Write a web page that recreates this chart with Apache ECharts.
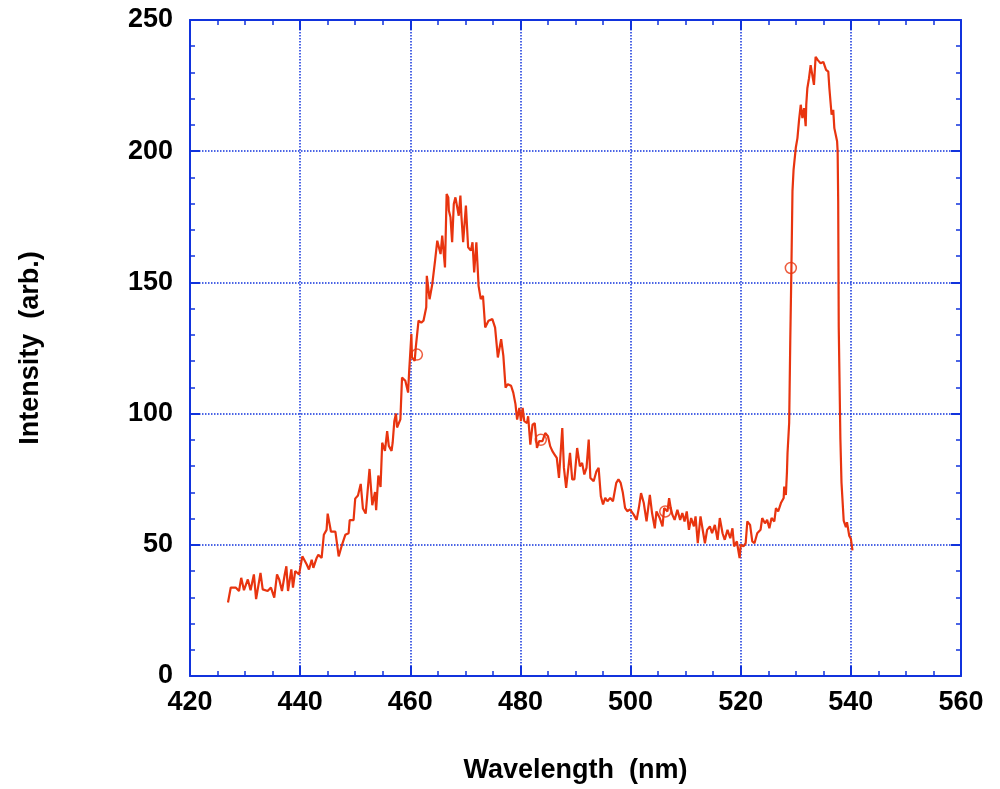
<!DOCTYPE html>
<html>
<head>
<meta charset="utf-8">
<script src="https://cdn.jsdelivr.net/npm/echarts@6/dist/echarts.min.js"></script>
<style>
  html, body { margin: 0; padding: 0; background: #fff; }
  #spectrum { width: 1000px; height: 789px; }
</style>
</head>
<body>
<div id="spectrum"></div>
<script>
// wavelength (nm)
const wavelength = [
  426.9, 427.4, 428.3, 428.9, 429.3, 429.8, 430.5, 431.0, 431.6, 432.0,
  432.8, 433.2, 434.1, 434.7, 435.3, 435.8, 436.2, 436.7, 437.2, 437.5,
  437.8, 438.4, 438.7, 439.1, 439.8, 440.4, 441.2, 441.6, 442.1, 442.4,
  443.0, 443.3, 443.9, 444.3, 444.8, 445.0, 445.6, 446.4, 447.0, 447.6,
  448.2, 448.8, 449.0, 449.7, 450.0, 450.5, 451.0, 451.4, 451.9, 452.6,
  453.1, 453.6, 453.8, 454.2, 454.6, 454.9, 455.4, 455.8, 456.1, 456.6,
  456.8, 457.1, 457.4, 457.6, 458.2, 458.5, 459.1, 459.6, 459.8, 460.2,
  460.3, 460.8, 461.0, 461.5, 462.0, 462.4, 462.9, 463.0, 463.5, 464.0,
  464.5, 464.9, 465.2, 465.5, 465.8, 466.3, 466.6, 466.9, 467.0, 467.3,
  467.6, 467.9, 468.2, 468.5, 468.8, 469.1, 469.3, 469.6, 470.1, 470.5,
  471.0, 471.3, 471.6, 472.0, 472.4, 472.8, 473.2, 473.6, 474.2, 474.9,
  475.4, 475.9, 476.5, 476.9, 477.3, 477.7, 478.3, 478.7, 479.1, 479.4,
  479.8, 480.1, 480.4, 480.7, 481.2, 481.4, 481.8, 482.2, 482.6, 483.0,
  483.4, 484.0, 484.5, 485.0, 485.4, 485.8, 486.2, 486.6, 487.0, 487.6,
  487.9, 488.3, 489.0, 489.4, 489.8, 490.3, 490.8, 491.2, 491.6, 492.0,
  492.4, 492.7, 493.3, 493.8, 494.2, 494.6, 495.0, 495.4, 495.8, 496.3,
  496.8, 497.4, 497.8, 498.2, 498.6, 499.0, 499.4, 499.9, 500.0, 500.6,
  501.1, 501.5, 501.9, 502.4, 502.9, 503.2, 503.5, 503.9, 504.4, 504.7,
  505.3, 505.8, 506.1, 506.7, 507.0, 507.3, 507.6, 508.0, 508.5, 509.0,
  509.4, 509.8, 510.2, 510.6, 511.0, 511.5, 511.8, 512.2, 512.7, 513.2,
  513.5, 513.9, 514.4, 514.8, 515.3, 515.8, 516.2, 516.7, 517.1, 517.6,
  518.1, 518.5, 518.8, 519.3, 519.5, 519.8, 520.0, 520.5, 520.9, 521.2,
  521.7, 522.1, 522.5, 523.0, 523.6, 523.9, 524.4, 524.8, 525.2, 525.6,
  526.1, 526.4, 526.8, 527.3, 527.8, 527.9, 528.2, 528.4, 528.5, 528.8,
  529.0, 529.2, 529.4, 529.6, 530.0, 530.3, 530.6, 530.9, 531.2, 531.5,
  531.8, 531.9, 532.1, 532.4, 532.7, 533.0, 533.3, 533.6, 534.0, 534.5,
  535.0, 535.5, 535.9, 536.1, 536.5, 536.8, 537.0, 537.5, 537.6, 537.7,
  537.8, 538.1, 538.3, 538.7, 539.1, 539.3, 539.7, 540.0, 540.3
];

// intensity (arb.) for each wavelength
const intensity = [
  28.0, 33.7, 33.7, 32.4, 37.4, 32.7, 36.8, 32.7, 38.7, 29.3,
  39.3, 33.0, 32.4, 33.7, 29.9, 38.7, 36.8, 32.4, 38.7, 41.8,
  32.4, 40.6, 33.7, 40.0, 38.7, 45.6, 42.5, 40.6, 44.3, 41.2,
  45.0, 46.2, 45.0, 53.8, 55.7, 61.9, 55.0, 55.0, 45.6, 50.0,
  53.8, 54.4, 59.4, 59.4, 67.6, 68.8, 73.2, 63.8, 61.9, 78.9,
  65.1, 70.1, 63.2, 76.4, 72.0, 88.9, 85.8, 93.3, 87.7, 85.8,
  88.9, 97.1, 100.0, 94.7, 97.8, 113.7, 112.5, 108.0, 116.3, 130.3,
  121.4, 120.1, 125.2, 135.4, 134.7, 135.4, 140.5, 152.5, 143.6, 149.4,
  158.3, 165.9, 166.5, 160.8, 167.8, 155.7, 183.7, 182.4, 177.4, 174.8,
  165.3, 179.9, 182.4, 183.1, 175.4, 183.1, 174.8, 165.3, 179.3, 163.4,
  162.1, 165.3, 153.8, 165.3, 148.7, 143.6, 144.9, 132.8, 135.4, 136.0,
  132.8, 121.4, 128.4, 122.0, 109.9, 111.2, 110.6, 108.0, 103.6, 97.7,
  102.2, 97.1, 102.2, 97.1, 96.4, 99.0, 88.2, 95.8, 96.4, 86.9,
  89.5, 89.5, 92.6, 91.4, 87.6, 85.7, 84.4, 83.1, 75.5, 94.5,
  79.3, 71.7, 85.0, 74.9, 74.9, 86.9, 79.9, 81.2, 76.8, 79.3,
  90.1, 75.5, 74.2, 78.0, 79.3, 68.5, 65.4, 67.9, 66.6, 67.9,
  66.6, 73.6, 74.9, 73.6, 69.8, 64.1, 62.8, 63.5, 64.0, 61.4,
  59.5, 64.0, 69.7, 65.9, 58.9, 64.0, 69.0, 62.1, 56.3, 62.7,
  60.2, 57.0, 64.0, 62.7, 67.8, 64.0, 61.4, 59.5, 63.3, 59.5,
  62.1, 58.9, 62.7, 55.7, 60.2, 57.0, 60.8, 50.6, 60.8, 54.4,
  50.6, 55.7, 57.0, 54.4, 57.6, 51.9, 60.2, 54.4, 51.9, 55.7,
  52.5, 56.3, 49.4, 51.3, 48.7, 44.9, 50.0, 49.4, 50.6, 58.9,
  57.6, 51.3, 50.6, 54.4, 55.7, 60.2, 58.2, 59.5, 56.3, 60.2,
  58.9, 64.0, 62.7, 65.9, 67.8, 72.2, 69.0, 77.9, 85.0, 96.5,
  128.0, 154.5, 184.8, 193.0, 201.3, 205.0, 212.0, 217.7, 212.6, 216.4,
  209.5, 217.7, 224.0, 227.8, 232.8, 232.2, 225.3, 236.0, 234.7, 233.5,
  234.0, 231.0, 230.3, 224.0, 213.9, 215.8, 208.8, 203.8, 200.0, 181.0,
  133.0, 90.2, 73.7, 59.2, 56.7, 58.6, 53.5, 52.3, 47.9
];

// open circle markers on the curve
const markerX = [461.2, 483.7, 506.3, 529.1];
const markerY = [122.5, 90.0, 62.7, 155.5];

const xTicks = { min: 420, max: 560, interval: 20 };
const yTicks = { min: 0, max: 250, interval: 50 };

const blue = '#1133dd';
const red = '#e8340f';
const font = 'Liberation Sans, Arial, sans-serif';

const linePoints = wavelength.map((w, i) => [w, intensity[i]]);
const markerPoints = markerX.map((w, i) => [w, markerY[i]]);

const labelStyle = {
  color: '#000',
  fontFamily: font,
  fontWeight: 'bold',
  fontSize: 27
};

const baseAxis = {
  type: 'value',
  axisLine: { show: true, onZero: false, lineStyle: { color: blue, width: 2 } },
  axisTick: { show: true, inside: true, length: 10, lineStyle: { color: blue, width: 2 } },
  minorTick: { show: true, length: 5, lineStyle: { color: blue, width: 1.5 } },
  minorSplitLine: { show: false }
};

const chart = echarts.init(document.getElementById('spectrum'));
chart.setOption({
  animation: false,
  backgroundColor: '#fff',
  grid: { left: 190, right: 39, top: 20, bottom: 112, containLabel: false },
  xAxis: [
    {
      ...baseAxis,
      position: 'bottom',
      min: xTicks.min, max: xTicks.max, interval: xTicks.interval,
      minorTick: { ...baseAxis.minorTick, splitNumber: 4 },
      splitLine: { show: true, lineStyle: { color: blue, type: 'dotted', width: 1.5 } },
      axisLabel: { ...labelStyle, margin: 13 },
      name: 'Wavelength  (nm)',
      nameLocation: 'middle',
      nameGap: 81,
      nameTextStyle: labelStyle
    },
    {
      ...baseAxis,
      position: 'top',
      min: xTicks.min, max: xTicks.max, interval: xTicks.interval,
      minorTick: { ...baseAxis.minorTick, splitNumber: 4 },
      splitLine: { show: false },
      axisLabel: { show: false }
    }
  ],
  yAxis: [
    {
      ...baseAxis,
      position: 'left',
      min: yTicks.min, max: yTicks.max, interval: yTicks.interval,
      minorTick: { ...baseAxis.minorTick, splitNumber: 5 },
      splitLine: { show: true, lineStyle: { color: blue, type: 'dotted', width: 1.5 } },
      axisLabel: { ...labelStyle, margin: 17 },
      name: 'Intensity  (arb.)',
      nameLocation: 'middle',
      nameGap: 146,
      nameRotate: 90,
      nameTextStyle: labelStyle
    },
    {
      ...baseAxis,
      position: 'right',
      min: yTicks.min, max: yTicks.max, interval: yTicks.interval,
      minorTick: { ...baseAxis.minorTick, splitNumber: 5 },
      splitLine: { show: false },
      axisLabel: { show: false }
    }
  ],
  series: [
    {
      type: 'line',
      xAxisIndex: 0,
      yAxisIndex: 0,
      data: linePoints,
      showSymbol: false,
      lineStyle: { color: red, width: 2.2 },
      z: 3
    },
    {
      type: 'scatter',
      xAxisIndex: 0,
      yAxisIndex: 0,
      data: markerPoints,
      symbol: 'circle',
      symbolSize: 11,
      itemStyle: { color: 'rgba(0,0,0,0)', borderColor: red, borderWidth: 1.5 },
      z: 4
    }
  ]
});
</script>
</body>
</html>
